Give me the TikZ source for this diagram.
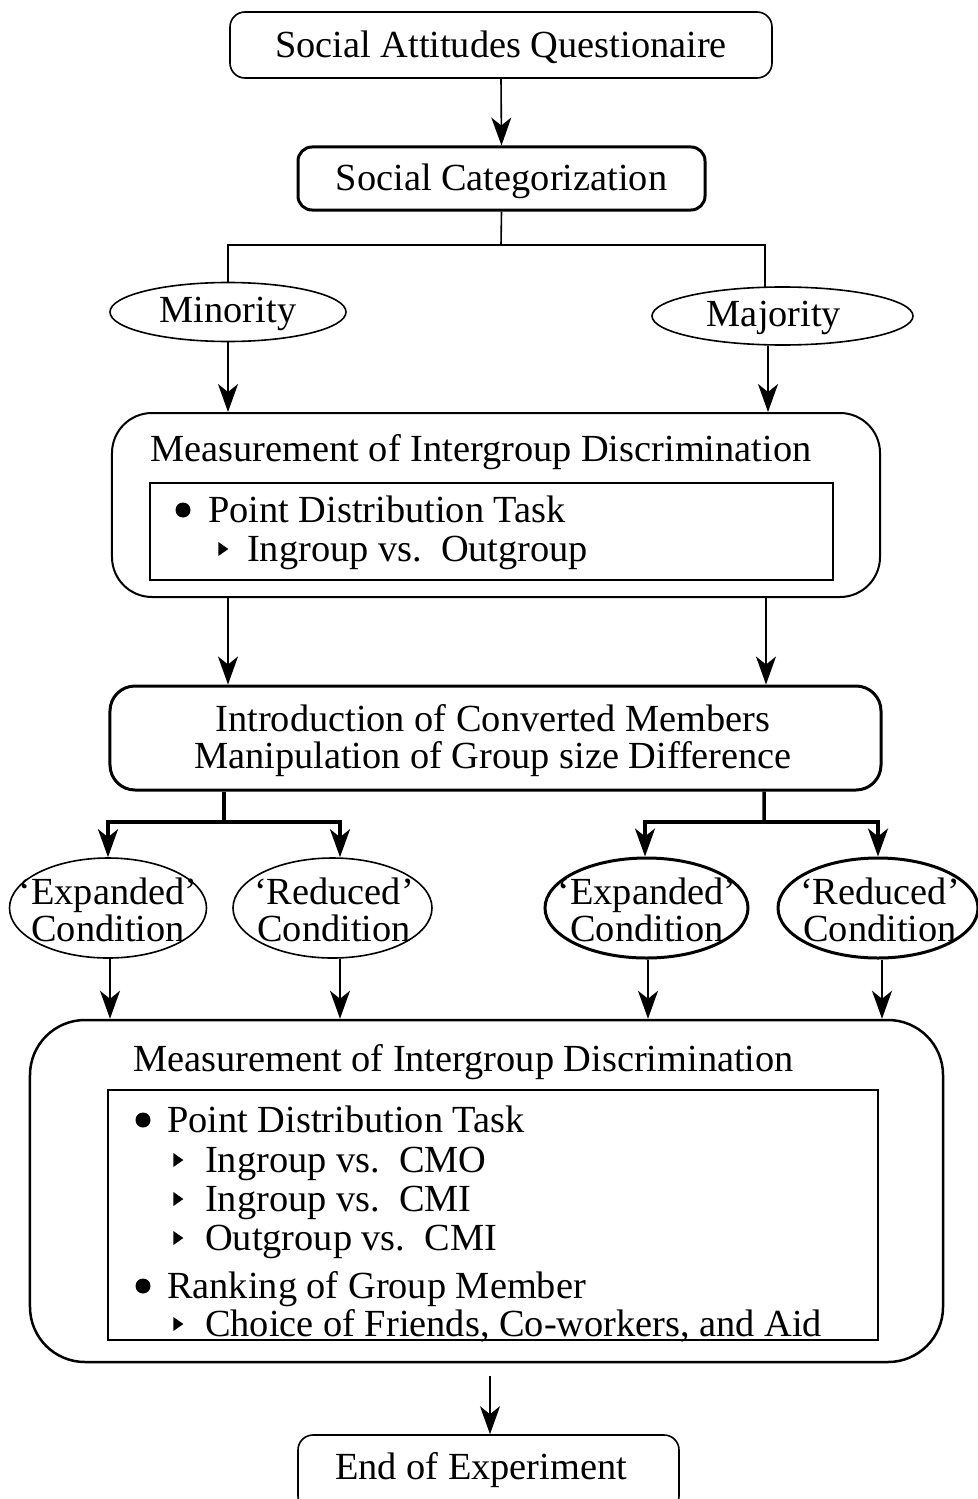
\documentclass[tikz,border=0pt]{standalone}
\usepackage{fontspec}
\setmainfont{Liberation Serif}
\usetikzlibrary{arrows.meta,shapes.geometric,calc}
\begin{document}
\begin{tikzpicture}[x=1bp,y=-1bp,
  every node/.style={font=\fontsize{38.5}{37}\selectfont, inner sep=0pt},
  rbox/.style={draw, rectangle, line width=1.6bp},
  ell/.style={draw, ellipse, line width=1.6bp},
  arr/.style={line width=1.6bp, -{Stealth[length=28bp,width=20bp,inset=8bp]}},
  tarr/.style={line width=3.5bp, -{Stealth[length=28bp,width=20bp,inset=8bp]}},
  ln/.style={line width=1.6bp},
  tln/.style={line width=3.5bp},
  bul/.style={circle, fill=black, minimum size=15bp},
  tri/.style={isosceles triangle, fill=black, minimum height=10bp, minimum width=11bp, isosceles triangle apex angle=70},
  item/.style={anchor=base west}
]
\useasboundingbox (0,0) rectangle (977,1499);

% top boxes
\node[rbox, rounded corners=15bp, minimum width=542bp, minimum height=66bp] (q) at (501,45) {};
\node (qt) at (501,47) {Social Attitudes Questionaire};
\node[rbox, rounded corners=14bp, line width=3bp, minimum width=407bp, minimum height=63bp] (sc) at (501.5,178.5) {};
\node (sct) at (501.5,181) {Social Categorization};
\draw[arr] (q.south) -- (sc.north);

% minority / majority
\node[ell, minimum width=236bp, minimum height=59bp] (min) at (228,312) {};
\node (mint) at (228,314) {Minority};
\node[ell, minimum width=261bp, minimum height=58bp] (maj) at (782.5,316) {};
\node (majt) at (774,318) {Majority};
\coordinate (split1) at (501,245);
\coordinate (majtop) at (765,288);
\draw[ln] (sc.south) -- (split1);
\draw[ln] (min.north) |- (split1) -| (majtop);

% measurement 1
\node[rbox, rounded corners=40bp, line width=2bp, minimum width=768bp, minimum height=184bp] (m1) at (496,505) {};
\node (m1t) at (481,452) {Measurement of Intergroup Discrimination};
\node[rbox, line width=2bp, minimum width=683bp, minimum height=97bp] (m1i) at (491.5,531.5) {};
\node[bul] (b1) at (183,510) {};
\node[item] (t1) at (208,522) {Point Distribution Task};
\node[tri] (r1) at (222,549) {};
\node[item] (t2) at (247,561) {Ingroup vs.\ \ Outgroup};

\draw[arr] (min.south) -- (m1.north -| min.south);
\draw[arr] ($(maj.south)+(-14.5,0)$) -- ($(m1.north)+(272,0)$);

% introduction box
\node[rbox, rounded corners=25bp, line width=3bp, minimum width=771bp, minimum height=104bp] (intro) at (495.5,738) {};
\node[align=center] (introt) at (493,741) {Introduction of Converted Members\\Manipulation of Group size Difference};
\draw[arr] ($(m1.south)+(-268,0)$) -- ($(intro.north)+(-267.5,0)$);
\draw[arr] ($(m1.south)+(270,0)$) -- ($(intro.north)+(270.5,0)$);

% condition ellipses
\node[ell, minimum width=197bp, minimum height=100bp] (e1) at (108,908) {};
\node[ell, minimum width=199bp, minimum height=100bp] (r1e) at (332.5,908) {};
\node[ell, line width=3bp, minimum width=203bp, minimum height=100bp] (e2) at (646.5,908) {};
\node[ell, line width=3bp, minimum width=200bp, minimum height=100bp] (r2e) at (878,908) {};
\node[align=center] (e1t) at (108,910) {‘Expanded’\\Condition};
\node[align=center] (r1t) at (334,910) {‘Reduced’\\Condition};
\node[align=center] (e2t) at (647,910) {‘Expanded’\\Condition};
\node[align=center] (r2t) at (880,910) {‘Reduced’\\Condition};

\coordinate (sl) at (224,822);
\coordinate (sr) at (764,822);
\draw[tln] ($(intro.south)+(-271.5,0)$) -- (sl);
\draw[tln] ($(intro.south)+(268.5,0)$) -- (sr);
\draw[tarr] (sl) -| (e1.north);
\draw[tarr] (sl) -| ($(r1e.north)+(7.5,0)$);
\draw[tarr] (sr) -| ($(e2.north)+(-1.5,0)$);
\draw[tarr] (sr) -| (r2e.north);

% measurement 2
\node[rbox, rounded corners=55bp, line width=2.5bp, minimum width=913bp, minimum height=342bp] (m2) at (486.5,1191) {};
\node (m2t) at (463.5,1062) {Measurement of Intergroup Discrimination};
\node[rbox, line width=1.5bp, minimum width=770bp, minimum height=250bp] (m2i) at (493,1215) {};

\draw[arr] ($(e1.south)+(2,0)$) -- (m2.north -| 110,0);
\draw[arr] ($(r1e.south)+(7.5,0)$) -- (m2.north -| 340,0);
\draw[arr] ($(e2.south)+(1.5,0)$) -- (m2.north -| 648,0);
\draw[arr] ($(r2e.south)+(4,0)$) -- (m2.north -| 882,0);

\node[bul] (b2) at (143,1120) {};
\node[item] (u1) at (167,1132) {Point Distribution Task};
\node[tri] (ra) at (177,1160) {};
\node[item] (u2) at (205,1172) {Ingroup vs.\ \ CMO};
\node[tri] (rb) at (177,1199) {};
\node[item] (u3) at (205,1211) {Ingroup vs.\ \ CMI};
\node[tri] (rc) at (177,1238) {};
\node[item] (u4) at (205,1250) {Outgroup vs.\ \ CMI};
\node[bul] (b3) at (143,1286) {};
\node[item] (u5) at (167,1298) {Ranking of Group Member};
\node[tri] (rd) at (177,1324) {};
\node[item] (u6) at (205,1336) {Choice of Friends, Co-workers, and Aid};

% end
\node[rbox, rounded corners=15bp, minimum width=381bp, minimum height=76bp] (end) at (488.5,1473) {};
\node (endt) at (481,1470) {End of Experiment};
\draw[arr, shorten <=13bp] (m2.south -| 490,0) -- (end.north -| 490,0);
\end{tikzpicture}
\end{document}
